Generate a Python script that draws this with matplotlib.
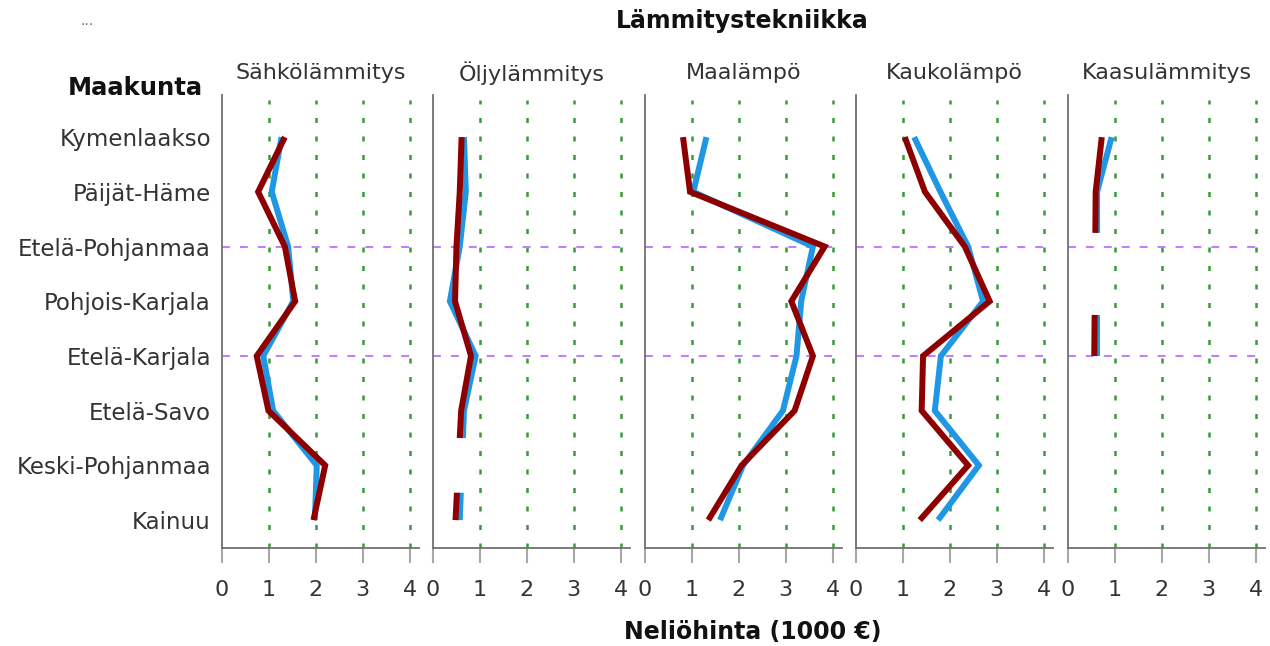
import matplotlib
matplotlib.use("Agg")
import matplotlib.pyplot as plt
import numpy as np

plt.rcParams["font.family"] = ["DejaVu Sans"]

nan = np.nan

regions = ["Kymenlaakso", "Päijät-Häme", "Etelä-Pohjanmaa", "Pohjois-Karjala",
           "Etelä-Karjala", "Etelä-Savo", "Keski-Pohjanmaa", "Kainuu"]
techs = ["Sähkölämmitys", "Öljylämmitys", "Maalämpö", "Kaukolämpö", "Kaasulämmitys"]
x_ticks = [0, 1, 2, 3, 4]
marked_rows = ["Etelä-Pohjanmaa", "Etelä-Karjala"]

# neliöhinta, 1000 € -- blue series and dark red series per heating type
sahko_blue = [1.27, 1.06, 1.41, 1.52, 0.88, 1.09, 2.02, 1.98]
sahko_red  = [1.34, 0.77, 1.34, 1.56, 0.74, 0.99, 2.20, 1.95]
oljy_blue  = [0.66, 0.70, 0.57, 0.36, 0.91, 0.66, nan, 0.57]
oljy_red   = [0.61, 0.57, 0.50, 0.47, 0.81, 0.60, nan, 0.48]
maa_blue   = [1.31, 1.03, 3.58, 3.33, 3.23, 2.94, 2.09, 1.60]
maa_red    = [0.81, 0.96, 3.83, 3.12, 3.58, 3.19, 2.06, 1.35]
kauko_blue = [1.24, 1.80, 2.39, 2.71, 1.81, 1.68, 2.62, 1.75]
kauko_red  = [1.04, 1.47, 2.32, 2.85, 1.43, 1.40, 2.39, 1.36]
kaasu_blue = [0.93, 0.62, nan, nan, 0.62, nan, nan, nan]
kaasu_red  = [0.72, 0.59, nan, nan, 0.56, nan, nan, nan]

blue_series = [sahko_blue, oljy_blue, maa_blue, kauko_blue, kaasu_blue]
red_series = [sahko_red, oljy_red, maa_red, kauko_red, kaasu_red]

BLUE = "#1f97e5"
RED = "#8e0000"
GREEN = "#3a9a3a"
PURPLE = "#bf7fff"
SPINE = "#707070"
TEXT = "#333333"


def paths(vals):
    # split into drawn pieces; across a gap only the outer quarters are drawn
    idx = [i for i, v in enumerate(vals) if not np.isnan(v)]
    out, cur = [], [(vals[idx[0]], idx[0])]
    for a, b in zip(idx[:-1], idx[1:]):
        if b == a + 1:
            cur.append((vals[b], b))
        else:
            q = 0.25
            cur.append((vals[a] + q * (vals[b] - vals[a]), a + q * (b - a)))
            out.append(cur)
            cur = [(vals[b] - q * (vals[b] - vals[a]), b - q * (b - a)), (vals[b], b)]
    out.append(cur)
    return out


def draw(ax, vals, color):
    for p in paths(vals):
        xs, ys = zip(*p)
        ax.plot(xs, ys, color=color, lw=4.3, solid_capstyle="butt",
                solid_joinstyle="miter", zorder=3)


W, H = 1270, 646
fig = plt.figure(figsize=(W / 100, H / 100), dpi=100)

lefts = [222, 433, 645, 856, 1068]
ax_w = 197
top_px, bot_px = 95, 548
y_pos = np.arange(len(regions))

for k, tech in enumerate(techs):
    ax = fig.add_axes([lefts[k] / W, 1 - bot_px / H, ax_w / W, (bot_px - top_px) / H])
    ax.set_xlim(0, 4.2)
    ax.set_ylim(7.51, -0.77)

    for s in ["top", "right"]:
        ax.spines[s].set_visible(False)
    for s in ["left", "bottom"]:
        ax.spines[s].set_color(SPINE)
        ax.spines[s].set_linewidth(1.3)

    for xv in x_ticks[1:]:
        ax.axvline(xv, ymin=0, ymax=0.99, color=GREEN, lw=1.8,
                   ls=(0, (2.0, 5.4)), zorder=1)
    for r in marked_rows:
        ax.hlines(regions.index(r), 0, 4, color=PURPLE, lw=1.5,
                  ls=(0, (3.8, 4.8)), zorder=2)

    draw(ax, blue_series[k], BLUE)
    draw(ax, red_series[k], RED)

    ax.set_xticks(x_ticks)
    ax.set_xticklabels([str(t) for t in x_ticks])
    ax.tick_params(axis="x", length=11, width=1.5, color="#a8a8a8",
                   labelsize=16, labelcolor=TEXT, pad=12)
    if k == 0:
        ax.set_yticks(y_pos)
        ax.set_yticklabels(regions)
        ax.tick_params(axis="y", length=0, pad=8, labelsize=16.5, labelcolor=TEXT)
    else:
        ax.set_yticks([])

    ax.annotate(tech, (0.5, 1), xycoords="axes fraction", xytext=(0, 16),
                textcoords="offset points", ha="center", va="center",
                fontsize=16, color=TEXT)

fig.text(742 / W, 1 - 21 / H, "Lämmitystekniikka", ha="center", va="center",
         fontsize=17, fontweight="bold", color="#111111")
fig.text(203 / W, 1 - 88 / H, "Maakunta", ha="right", va="center",
         fontsize=17.5, fontweight="bold", color="#111111")
fig.text(753 / W, 1 - 632 / H, "Neliöhinta (1000 €)", ha="center", va="center",
         fontsize=17, fontweight="bold", color="#111111")
fig.text(87 / W, 1 - 21 / H, "...", ha="center", va="center",
         fontsize=10, color="#666666")

fig.savefig("out.png", dpi=100)
